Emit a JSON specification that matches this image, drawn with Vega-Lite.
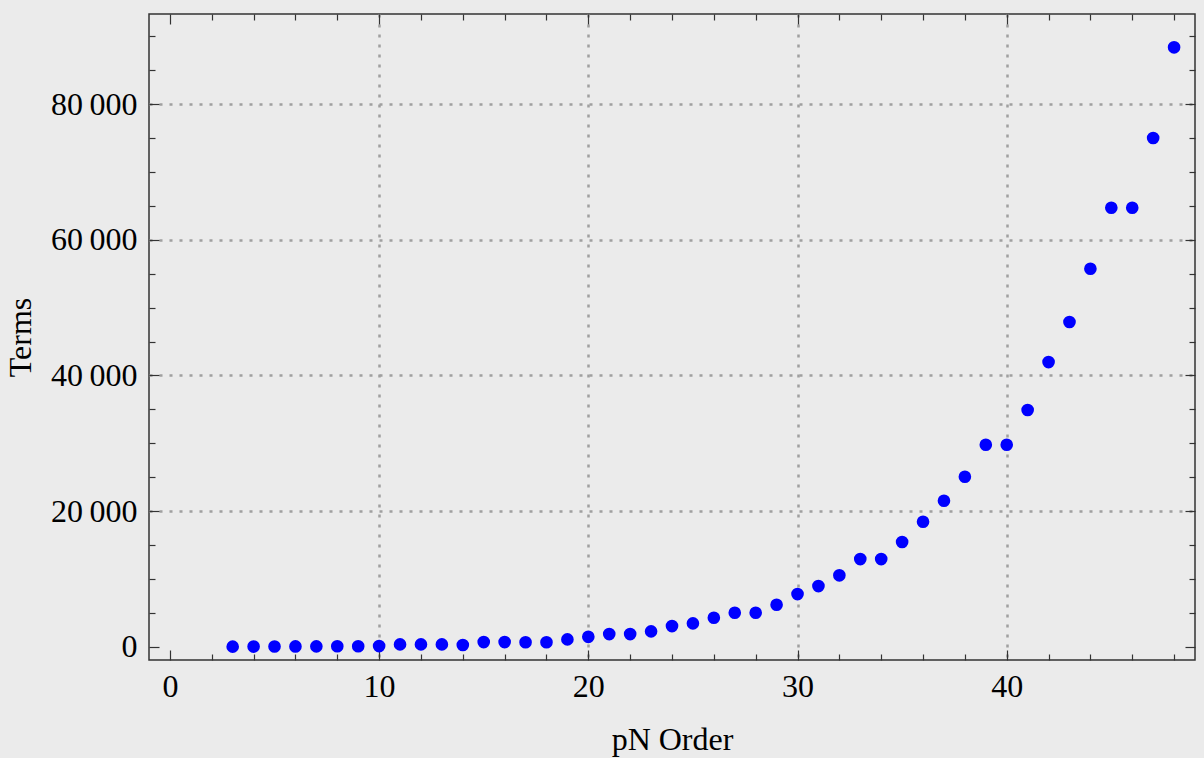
{
  "$schema": "https://vega.github.io/schema/vega-lite/v6.json",
  "width": 1046,
  "height": 646,
  "autosize": "none",
  "padding": {"left": 149, "top": 14, "right": 9, "bottom": 98},
  "background": "#EBEBEB",
  "config": {
    "view": {"stroke": "#333333", "strokeWidth": 1.5, "fill": "#EBEBEB"},
    "axis": {
      "labelFont": "Liberation Serif",
      "titleFont": "Liberation Serif",
      "labelColor": "#000000",
      "titleColor": "#000000",
      "titleFontWeight": "normal",
      "tickColor": "#333333",
      "tickWidth": 1.2,
      "domain": false
    }
  },
  "data": {"values": [
    {"order": 3, "terms": 20}, {"order": 4, "terms": 30}, {"order": 5, "terms": 40},
    {"order": 6, "terms": 50}, {"order": 7, "terms": 60}, {"order": 8, "terms": 70},
    {"order": 9, "terms": 80}, {"order": 10, "terms": 100}, {"order": 11, "terms": 350},
    {"order": 12, "terms": 350}, {"order": 13, "terms": 350}, {"order": 14, "terms": 260},
    {"order": 15, "terms": 690}, {"order": 16, "terms": 690}, {"order": 17, "terms": 660},
    {"order": 18, "terms": 660}, {"order": 19, "terms": 1090}, {"order": 20, "terms": 1470},
    {"order": 21, "terms": 1870}, {"order": 22, "terms": 1870}, {"order": 23, "terms": 2270},
    {"order": 24, "terms": 3050}, {"order": 25, "terms": 3450}, {"order": 26, "terms": 4280},
    {"order": 27, "terms": 5010}, {"order": 28, "terms": 5010}, {"order": 29, "terms": 6190},
    {"order": 30, "terms": 7770}, {"order": 31, "terms": 8950}, {"order": 32, "terms": 10530},
    {"order": 33, "terms": 12930}, {"order": 34, "terms": 12930}, {"order": 35, "terms": 15450},
    {"order": 36, "terms": 18430}, {"order": 37, "terms": 21520}, {"order": 38, "terms": 25060},
    {"order": 39, "terms": 29780}, {"order": 40, "terms": 29780}, {"order": 41, "terms": 34900},
    {"order": 42, "terms": 41970}, {"order": 43, "terms": 47870}, {"order": 44, "terms": 55730},
    {"order": 45, "terms": 64720}, {"order": 46, "terms": 64720}, {"order": 47, "terms": 75000},
    {"order": 48, "terms": 88370}
  ]},
  "layer": [
    {
      "mark": {"type": "point", "filled": true, "color": "#0000FF", "opacity": 1, "size": 160},
      "encoding": {
        "x": {
          "field": "order", "type": "quantitative",
          "scale": {"domain": [-1, 49], "nice": false, "zero": false},
          "axis": {
            "orient": "bottom",
            "values": [0,2,4,6,8,10,12,14,16,18,20,22,24,26,28,30,32,34,36,38,40,42,44,46,48],
            "labelExpr": "datum.value % 10 === 0 ? datum.value : ''",
            "labelFontSize": 32,
            "labelPadding": 21,
            "tickSize": {"condition": {"test": "datum.value % 10 === 0", "value": -10}, "value": -6},
            "grid": true,
            "gridColor": "#A0A0A0",
            "gridWidth": 2.5,
            "gridDash": [3, 7],
            "gridOpacity": {"condition": {"test": "datum.value % 10 === 0 && datum.value !== 0", "value": 1}, "value": 0},
            "title": "pN Order",
            "titleFontSize": 32,
            "titlePadding": 22
          }
        },
        "y": {
          "field": "terms", "type": "quantitative",
          "scale": {"domain": [-1950, 93280], "nice": false, "zero": false},
          "axis": {
            "orient": "left",
            "values": [0,5000,10000,15000,20000,25000,30000,35000,40000,45000,50000,55000,60000,65000,70000,75000,80000,85000,90000],
            "labelExpr": "datum.value % 20000 === 0 ? replace(format(datum.value, ','), ',', '\u2009') : ''",
            "labelFontSize": 32,
            "labelPadding": 22,
            "tickSize": {"condition": {"test": "datum.value % 20000 === 0", "value": -10}, "value": -6},
            "grid": true,
            "gridColor": "#A0A0A0",
            "gridWidth": 2.5,
            "gridDash": [3, 7],
            "gridOpacity": {"condition": {"test": "datum.value % 20000 === 0 && datum.value !== 0", "value": 1}, "value": 0},
            "title": "Terms",
            "titleFontSize": 32,
            "titlePadding": 13
          }
        }
      }
    },
    {
      "mark": {"type": "point", "filled": true, "color": "#0000FF", "opacity": 0, "size": 160},
      "encoding": {
        "x": {
          "field": "order", "type": "quantitative",
          "axis": {
            "orient": "top",
            "values": [0,2,4,6,8,10,12,14,16,18,20,22,24,26,28,30,32,34,36,38,40,42,44,46,48],
            "labels": false,
            "tickSize": {"condition": {"test": "datum.value % 10 === 0", "value": -10}, "value": -6},
            "grid": false,
            "title": null
          }
        },
        "y": {
          "field": "terms", "type": "quantitative",
          "axis": {
            "orient": "right",
            "values": [0,5000,10000,15000,20000,25000,30000,35000,40000,45000,50000,55000,60000,65000,70000,75000,80000,85000,90000],
            "labels": false,
            "tickSize": {"condition": {"test": "datum.value % 20000 === 0", "value": -10}, "value": -6},
            "grid": false,
            "title": null
          }
        }
      }
    }
  ],
  "resolve": {"axis": {"x": "independent", "y": "independent"}}
}
